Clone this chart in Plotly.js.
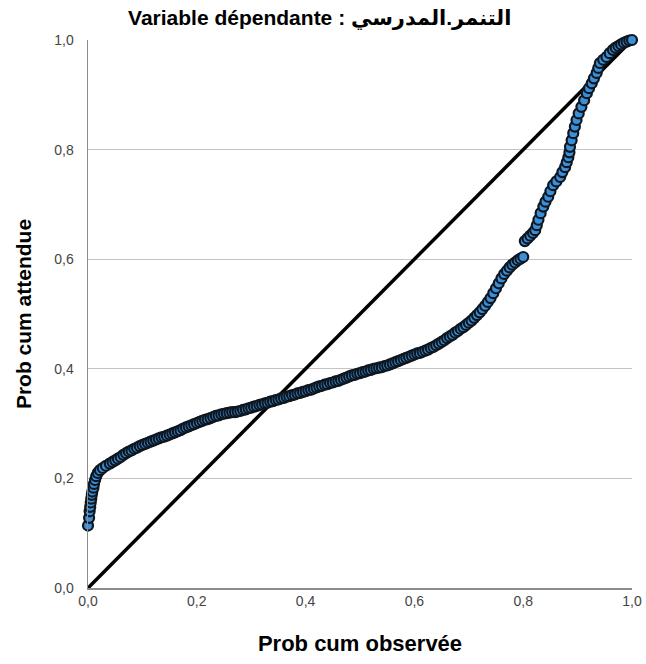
<!DOCTYPE html>
<html>
<head>
<meta charset="utf-8">
<script src="https://cdn.plot.ly/plotly-3.0.1.min.js"></script>
<style>
html,body{margin:0;padding:0;background:#fff;}
#chart{width:646px;height:664px;}
</style>
</head>
<body>
<div id="chart"></div>
<script>
var observed = [
  0.000,0.002,0.003,0.004,0.005,0.006,0.007,0.008,0.010,0.011,0.013,0.015,0.018,0.022,0.027,0.033,
  0.040,0.045,0.050,0.055,0.060,0.065,0.070,0.075,0.080,0.085,0.090,0.095,0.100,0.105,0.110,0.115,
  0.120,0.125,0.130,0.135,0.140,0.145,0.150,0.155,0.160,0.165,0.170,0.175,0.180,0.185,0.190,0.195,
  0.200,0.205,0.210,0.215,0.220,0.225,0.230,0.235,0.240,0.245,0.250,0.255,0.260,0.265,0.270,0.275,
  0.280,0.285,0.290,0.295,0.300,0.305,0.310,0.315,0.320,0.325,0.330,0.335,0.340,0.345,0.350,0.355,
  0.360,0.365,0.370,0.375,0.380,0.385,0.390,0.395,0.400,0.405,0.410,0.415,0.420,0.425,0.430,0.435,
  0.440,0.445,0.450,0.455,0.460,0.465,0.470,0.475,0.480,0.485,0.490,0.495,0.500,0.505,0.510,0.515,
  0.520,0.525,0.530,0.535,0.540,0.545,0.550,0.555,0.560,0.565,0.570,0.575,0.580,0.585,0.590,0.595,
  0.600,0.605,0.610,0.615,0.620,0.625,0.630,0.635,0.640,0.645,0.650,0.655,0.660,0.665,0.670,0.675,
  0.680,0.685,0.690,0.695,0.700,0.705,0.710,0.715,0.720,0.725,0.730,0.735,0.740,0.745,0.750,0.755,
  0.760,0.765,0.770,0.775,0.780,0.785,0.790,0.795,0.800,
  0.803,0.808,0.813,0.818,0.822,0.825,0.828,0.832,0.837,0.841,0.846,0.850,0.855,0.861,0.868,0.872,
  0.877,0.880,0.883,0.885,0.886,0.889,0.892,0.895,0.898,0.902,0.907,0.912,0.917,0.921,0.926,0.930,
  0.935,0.938,0.941,0.947,0.953,0.959,0.965,0.970,0.975,0.980,0.985,0.990,0.995,1.000
];
var expected = [
  0.114,0.128,0.140,0.148,0.156,0.163,0.170,0.176,0.183,0.190,0.197,0.204,0.210,0.215,0.219,0.223,
  0.227,0.230,0.233,0.236,0.239,0.243,0.246,0.249,0.251,0.254,0.256,0.259,0.261,0.263,0.265,0.267,
  0.269,0.271,0.273,0.275,0.276,0.278,0.280,0.282,0.284,0.286,0.288,0.291,0.293,0.295,0.297,0.299,
  0.301,0.303,0.305,0.307,0.308,0.310,0.312,0.314,0.315,0.317,0.318,0.319,0.320,0.321,0.321,0.322,
  0.323,0.325,0.326,0.328,0.329,0.331,0.332,0.334,0.335,0.337,0.338,0.340,0.341,0.343,0.344,0.346,
  0.347,0.349,0.350,0.352,0.353,0.355,0.356,0.358,0.359,0.361,0.362,0.364,0.366,0.368,0.369,0.371,
  0.372,0.374,0.375,0.377,0.378,0.380,0.382,0.384,0.386,0.388,0.389,0.391,0.392,0.394,0.395,0.397,
  0.398,0.400,0.401,0.402,0.403,0.405,0.406,0.408,0.410,0.412,0.414,0.416,0.418,0.420,0.422,0.424,
  0.426,0.428,0.429,0.431,0.433,0.435,0.438,0.440,0.443,0.446,0.449,0.452,0.456,0.459,0.462,0.466,
  0.469,0.473,0.476,0.480,0.484,0.488,0.493,0.498,0.503,0.509,0.515,0.522,0.529,0.538,0.547,0.556,
  0.565,0.573,0.579,0.585,0.590,0.594,0.598,0.601,0.604,
  0.633,0.638,0.643,0.648,0.653,0.662,0.672,0.684,0.696,0.705,0.714,0.724,0.735,0.742,0.750,0.759,
  0.768,0.777,0.786,0.795,0.805,0.817,0.830,0.842,0.854,0.866,0.878,0.890,0.903,0.912,0.921,0.930,
  0.940,0.949,0.958,0.964,0.969,0.976,0.982,0.986,0.989,0.992,0.995,0.997,0.999,1.000
];
// Reference diagonal
var diagX = [0, 1];
var diagY = [0, 1];
var tickVals = [0, 0.2, 0.4, 0.6, 0.8, 1.0];
var tickText = ['0,0', '0,2', '0,4', '0,6', '0,8', '1,0'];

var FONT = 'Liberation Sans, Arial, DejaVu Sans, sans-serif';

var traces = [
  {
    x: diagX, y: diagY, type: 'scatter', mode: 'lines',
    line: {color: '#000000', width: 3.5},
    hoverinfo: 'skip', showlegend: false
  },
  {
    x: observed, y: expected, type: 'scatter', mode: 'markers',
    marker: {size: 10, color: '#3b8fd6', line: {color: '#0e1620', width: 2.2}},
    showlegend: false, cliponaxis: false
  }
];

var layout = {
  width: 646, height: 664,
  paper_bgcolor: '#ffffff', plot_bgcolor: '#ffffff',
  margin: {l: 88, r: 14, t: 40, b: 76},
  font: {family: FONT, color: '#444444'},
  showlegend: false,
  title: {
    text: '<b>Variable dépendante : التنمر.المدرسي</b>',
    font: {family: FONT, size: 21, color: '#000000'},
    x: 0.495, xref: 'container', xanchor: 'center',
    y: 0.973, yref: 'container', yanchor: 'middle'
  },
  xaxis: {
    range: [0, 1], fixedrange: true,
    tickvals: tickVals, ticktext: tickText,
    showgrid: false, zeroline: false,
    showline: true, linecolor: '#8c8c8c', linewidth: 1.5,
    ticks: '', tickfont: {family: FONT, size: 14, color: '#444444'},
    title: {text: '<b>Prob cum observée</b>', font: {family: FONT, size: 22, color: '#000000'}, standoff: 27}
  },
  yaxis: {
    range: [0, 1], fixedrange: true,
    tickvals: tickVals, ticktext: tickText,
    showgrid: true, gridcolor: '#c4c4c4', gridwidth: 1,
    zeroline: false,
    showline: true, linecolor: '#8c8c8c', linewidth: 1.5,
    ticks: '', ticklabelstandoff: 10,
    tickfont: {family: FONT, size: 14, color: '#444444'},
    title: {text: '<b>Prob cum attendue</b>', font: {family: FONT, size: 21, color: '#000000'}, standoff: 17}
  }
};

Plotly.newPlot('chart', traces, layout, {displayModeBar: false, staticPlot: true});
</script>
</body>
</html>
